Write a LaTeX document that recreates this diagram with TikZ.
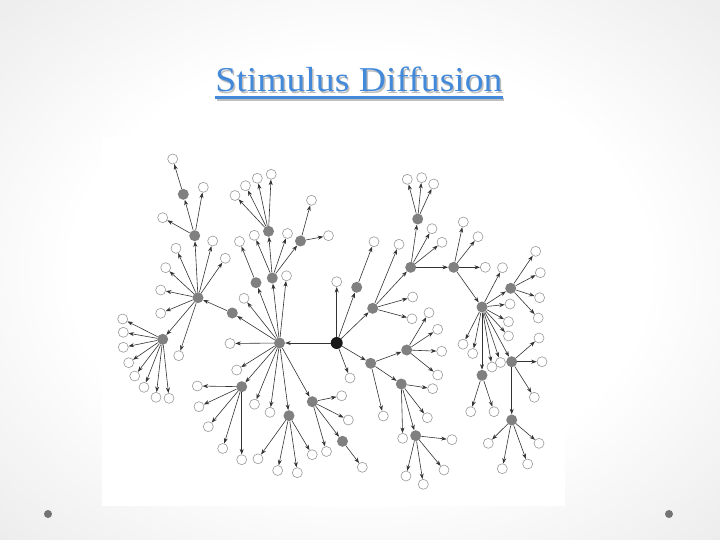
\documentclass[tikz,border=0pt]{standalone}
\usepackage{fontspec}
\newfontfamily\titlefont[FakeStretch=1.08]{Liberation Serif}
\usetikzlibrary{arrows.meta}
\definecolor{titleblue}{RGB}{66,137,218}
\pgfdeclareradialshading{slidebg}{\pgfpoint{0bp}{0bp}}{color(0bp)=(white); color(20bp)=(white); color(50bp)=(black!14); color(72bp)=(black!27)}

\begin{document}
\begin{tikzpicture}[x=1bp, y=-1bp,
	every node/.style={inner sep=0pt},
	leaf/.style={circle, draw=black!40, line width=0.6bp, fill=white, minimum size=10bp},
	relay/.style={circle, fill=black!50, minimum size=11bp},
	seed/.style={circle, fill=black!90, minimum size=12bp},
	spread/.style={draw=black!80, line width=0.6bp, -{Stealth[length=5.5bp,width=4bp]}},
	slidedot/.style={circle, fill=black!55, minimum size=8bp}
	]

% Slide
\shade[shading=slidebg] (0,0) rectangle (720,540);
\useasboundingbox (0,0) rectangle (720,540);
\fill[white] (102,137) rectangle (565,506);
\node[slidedot] (left dot) at (48,514) {};
\node[slidedot] (right dot) at (669,514) {};

% Title
\node[anchor=base, font=\titlefont\fontsize{35}{40}\selectfont, text=black!25] (title shadow) at (360.5,93.5) {Stimulus Diffusion};
\node[anchor=base, font=\titlefont\fontsize{35}{40}\selectfont, text=titleblue] (title) at (359,92) {Stimulus Diffusion};
\draw[line width=3bp, black!25] ([xshift=1.5bp, yshift=-7.5bp]title.base west) -- ([xshift=1.5bp, yshift=-7.5bp]title.base east);
\draw[line width=3bp, titleblue] ([yshift=-6bp]title.base west) -- ([yshift=-6bp]title.base east);

% Seed and hub
\node[seed] (seed) at (336.7,343) {};
\node[relay] (hub) at (279.5,343) {};

% Relays round the hub
\node[relay] (hsw) at (241.7,386.7) {};
\node[relay] (hs) at (289,415.7) {};
\node[relay] (hse) at (312.3,401.7) {};
\node[relay] (hsee) at (342.5,441.3) {};
\node[relay] (hw) at (232.3,313) {};
\node[relay] (hnw) at (256,282.7) {};
\node[relay] (hn) at (272.3,278) {};
\node[relay] (hnn) at (268.5,231.3) {};
\node[relay] (hne) at (300.5,241) {};

% West cluster
\node[relay] (west) at (198,297.7) {};
\node[relay] (wn) at (194.7,235.7) {};
\node[relay] (wnn) at (183.3,194.3) {};
\node[relay] (ws) at (162.7,339.3) {};

% Relays from the seed
\node[relay] (sn) at (356.7,287.3) {};
\node[relay] (sne) at (372.7,308.3) {};
\node[relay] (sse) at (370.7,363.3) {};
\node[relay] (mid) at (410.7,267.3) {};
\node[relay] (midn) at (417.7,219) {};
\node[relay] (mide) at (453.7,267.3) {};
\node[relay] (sa) at (406.7,350) {};
\node[relay] (sb) at (401.3,384) {};
\node[relay] (sc) at (415.7,435.7) {};

% East cluster
\node[relay] (east) at (482,307) {};
\node[relay] (ea) at (510.7,288.3) {};
\node[relay] (eb) at (511.7,361.7) {};
\node[relay] (ec) at (482,375.3) {};
\node[relay] (ed) at (511.7,420) {};

% Relay to relay
\foreach \a/\b in {seed/hub, hub/hsw, hub/hs, hub/hse, hub/hw, hub/hnw, hub/hn,
	hw/west, west/wn, wn/wnn, west/ws, hn/hnn, hn/hne, hse/hsee,
	seed/sn, seed/sne, seed/sse, sne/mid, mid/midn, mid/mide, mide/east,
	east/ea, east/eb, east/ec, eb/ed, sse/sa, sse/sb, sb/sc}
	\draw[spread] (\a) -- (\b);

% Leaves
\foreach \src/\pts in {
	hub/{(230,343.5),(236.7,370),(254.5,404.2),(270,412.3),(244,298.3),(286.5,275.8)},
	hnw/{(239.5,241.5)},
	hn/{(254.3,235.3),(287.5,233.5)},
	hnn/{(235,195.5),(245.5,185.7),(257.3,178.3),(271.2,174.3)},
	hne/{(311.5,200.3),(328.5,235.7)},
	west/{(176,248.3),(212.7,241),(225.3,258.3),(165.7,267.7),(160.7,290),(160.7,313.3),(178.7,355.7)},
	wn/{(203.3,187.3),(162.7,217.7)},
	wnn/{(172.7,159)},
	ws/{(122.7,319),(123.3,332.3),(123.3,347.3),(128.7,362.7),(134.7,376),(144,387.3),(156,397.3),(169,398.3)},
	hsw/{(197.3,386),(199,406.7),(208.3,426.7),(222.7,448.5),(241.7,459.7)},
	hs/{(258,458.8),(277.7,470.5),(297.3,472.7),(312.2,454.7)},
	hse/{(341.7,395.8),(348.3,420),(326.5,451.5)},
	hsee/{(362.3,467.3)},
	seed/{(336.7,281.7),(350,378)},
	sn/{(374,241.7)},
	sne/{(399,244.3),(412.7,297),(412,318.8)},
	mid/{(432,228.7),(442,242.3)},
	midn/{(407.3,179.3),(421.7,177.7),(433.7,184)},
	mide/{(463.3,222),(478,236.7),(485.3,267.3)},
	east/{(502.5,267.7),(510,304),(508.5,321.7),(508.5,336),(500.5,362.5),(492,367),(472.7,353.5),(463,344.2)},
	ea/{(535.7,251.3),(540.3,272.7),(539.6,297.7),(538.2,318)},
	eb/{(539,338),(542,361.7),(534.3,397.3)},
	ec/{(470.7,411.7),(494,411.7)},
	ed/{(488.3,443.3),(502.3,468.7),(527.7,464),(539,443.3)},
	sse/{(383.3,416)},
	sa/{(429,312.7),(437.7,329.3),(441.7,351.3),(437.7,375)},
	sb/{(432.7,388.7),(427.3,417.7),(402.7,438.3)},
	sc/{(452,439.7),(406,476),(423.3,484.3),(444,470)}}
	\foreach \p [count=\i] in \pts
		{\node[leaf] (\src-\i) at \p {}; \draw[spread] (\src) -- (\src-\i);}

\end{tikzpicture}
\end{document}
